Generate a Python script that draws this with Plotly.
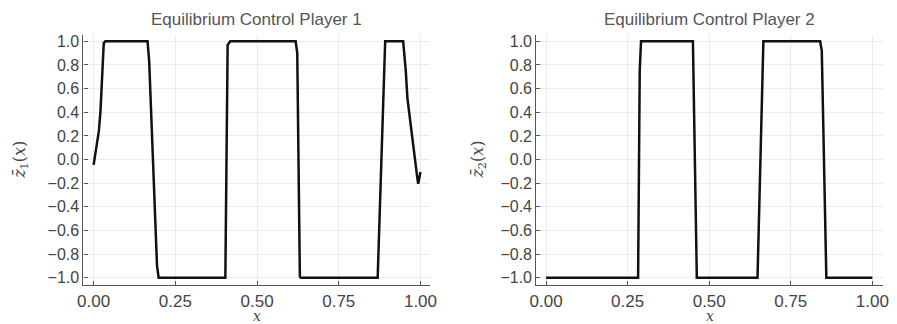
import plotly.graph_objects as go

# Player 1 equilibrium control
x1 = [0.0, 0.006, 0.016, 0.021, 0.026, 0.031, 0.036, 0.165, 0.170, 0.194, 0.199,
      0.403, 0.410, 0.418, 0.618, 0.623, 0.631, 0.634, 0.869, 0.892, 0.947,
      0.955, 0.960, 0.975, 0.985, 0.990, 0.993, 0.997, 1.0]
y1 = [-0.045, 0.05, 0.24, 0.41, 0.66, 0.985, 1.0, 1.0, 0.83, -0.9, -1.0,
      -1.0, 0.97, 1.0, 1.0, 0.9, -0.99, -1.0, -1.0, 1.0, 1.0,
      0.75, 0.52, 0.16, -0.04, -0.15, -0.205, -0.16, -0.105]

# Player 2 equilibrium control
x2 = [0.0, 0.282, 0.287, 0.291, 0.450, 0.462, 0.648, 0.666, 0.840, 0.845, 0.859, 1.0]
y2 = [-1.0, -1.0, 0.75, 1.0, 1.0, -1.0, -1.0, 1.0, 1.0, 0.92, -1.0, -1.0]

titles = ["Equilibrium Control Player 1", "Equilibrium Control Player 2"]
xticks = [0.0, 0.25, 0.5, 0.75, 1.0]
xticklabels = ["0.00", "0.25", "0.50", "0.75", "1.00"]
yticks = [-1.0, -0.8, -0.6, -0.4, -0.2, 0.0, 0.2, 0.4, 0.6, 0.8, 1.0]
yticklabels = ["\u22121.0", "\u22120.8", "\u22120.6", "\u22120.4", "\u22120.2", "0.0",
               "0.2", "0.4", "0.6", "0.8", "1.0"]

W, H = 897, 324
font = "Liberation Sans, Arial, Helvetica, sans-serif"

fig = go.Figure()
fig.add_trace(go.Scatter(x=x1, y=y1, mode="lines", line=dict(color="#111111", width=2.5),
                         xaxis="x", yaxis="y", showlegend=False))
fig.add_trace(go.Scatter(x=x2, y=y2, mode="lines", line=dict(color="#111111", width=2.5),
                         xaxis="x2", yaxis="y2", showlegend=False))

left_dom = [77.7 / W, 430 / W]
right_dom = [537.7 / W, 890 / W]
ydom = [1 - 286 / H, 1 - 33 / H]

axis_common = dict(showgrid=True, gridcolor="#ececec", gridwidth=1, zeroline=False,
                   showline=True, linecolor="#555555", linewidth=1.2,
                   ticks="inside", ticklen=4, tickcolor="#555555")
xfont = dict(family=font, size=17, color="#444444")
yfont = dict(family=font, size=16, color="#444444")

fig.update_layout(
    width=W, height=H,
    margin=dict(l=0, r=0, t=0, b=0),
    paper_bgcolor="white", plot_bgcolor="white",
    xaxis=dict(domain=left_dom, anchor="y", range=[-0.031, 1.03],
               tickvals=xticks, ticktext=xticklabels, tickfont=xfont, **axis_common),
    yaxis=dict(domain=ydom, anchor="x", range=[-1.064, 1.056],
               tickvals=yticks, ticktext=yticklabels, tickfont=yfont, **axis_common),
    xaxis2=dict(domain=right_dom, anchor="y2", range=[-0.03, 1.033],
                tickvals=xticks, ticktext=xticklabels, tickfont=xfont, **axis_common),
    yaxis2=dict(domain=ydom, anchor="x2", range=[-1.064, 1.056],
                tickvals=yticks, ticktext=yticklabels, tickfont=yfont, **axis_common),
)

annots = []
for dom, t in zip([left_dom, right_dom], titles):
    cx = (dom[0] + dom[1]) / 2
    annots.append(dict(x=cx, y=1 - 18 / H, xref="paper", yref="paper", text=t, showarrow=False,
                       font=dict(family=font, size=17, color="#555555"),
                       xanchor="center", yanchor="middle"))
    annots.append(dict(x=cx, y=1 - 317 / H, xref="paper", yref="paper", text="<i>x</i>",
                       showarrow=False, font=dict(family="DejaVu Serif, serif", size=14, color="#444444"),
                       xanchor="center", yanchor="middle"))
ylab_x = [13 / W, 478 / W]
ylabs = ["<i>z̄</i><sub>1</sub>(<i>x</i>)", "<i>z̄</i><sub>2</sub>(<i>x</i>)"]
for xx, lab in zip(ylab_x, ylabs):
    annots.append(dict(x=xx, y=(ydom[0] + ydom[1]) / 2, xref="paper", yref="paper", text=lab,
                       showarrow=False, textangle=-90,
                       font=dict(family="DejaVu Serif, serif", size=16, color="#444444"),
                       xanchor="center", yanchor="middle"))
fig.update_layout(annotations=annots)

fig.write_html("out.html", config={"displayModeBar": False},
               post_script="document.body.style.margin='0';document.body.style.padding='0';")
